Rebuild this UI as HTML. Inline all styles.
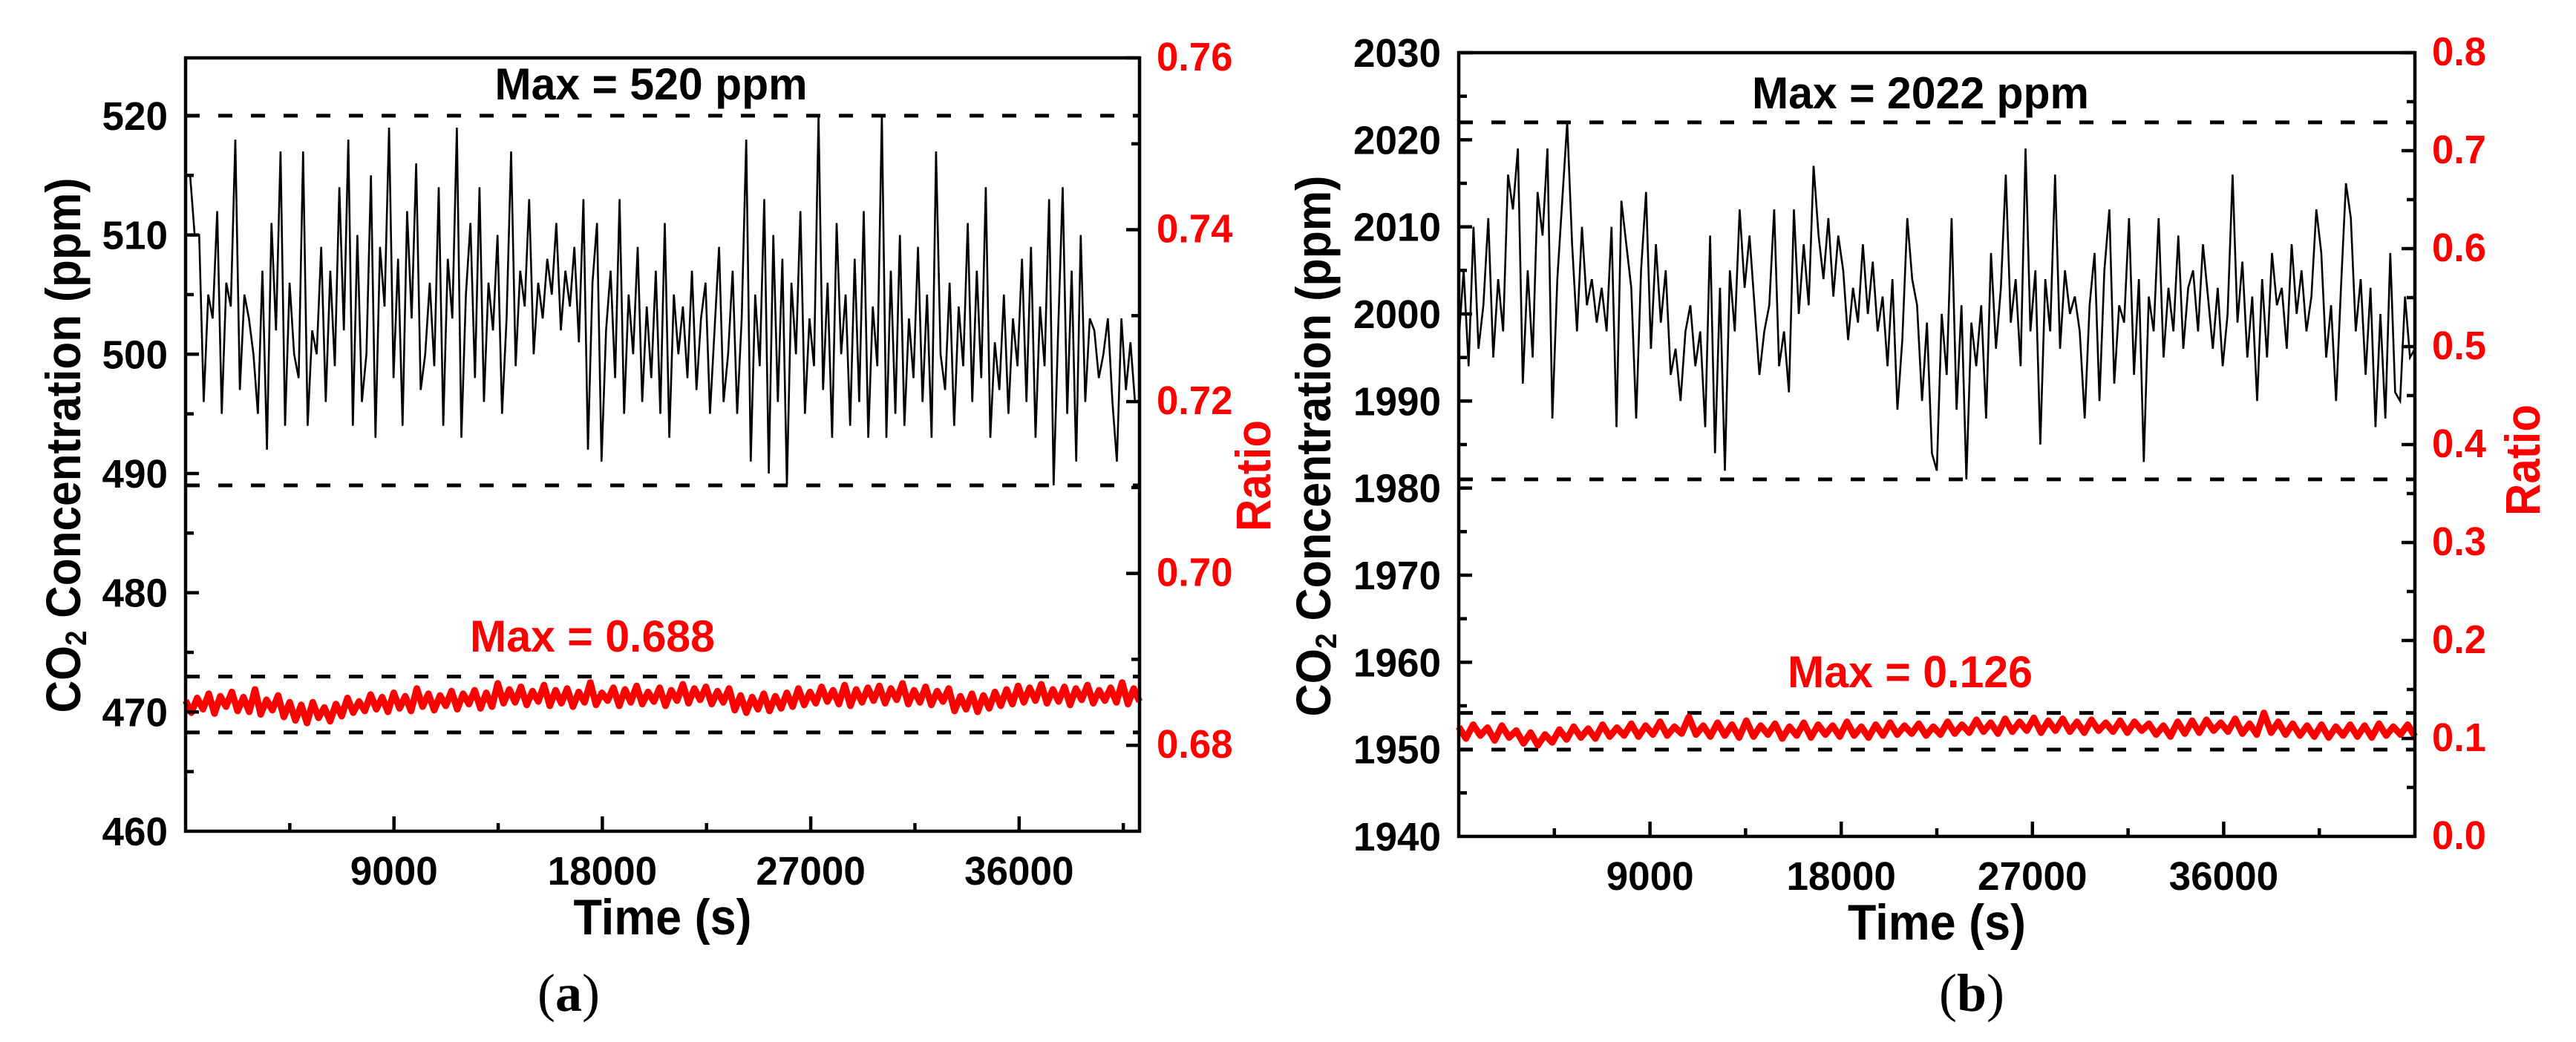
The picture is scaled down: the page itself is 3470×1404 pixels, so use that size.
<!DOCTYPE html>
<html><head><meta charset="utf-8"><title>CO2 concentration and ratio over time</title>
<style>
html,body{margin:0;padding:0;background:#fff;}
svg{display:block;}
text{font-family:"Liberation Sans",Arial,sans-serif;font-weight:bold;}
</style></head>
<body>
<svg id="fig" width="3470" height="1404" viewBox="0 0 3470 1404" xmlns="http://www.w3.org/2000/svg">
<rect width="3470" height="1404" fill="#fff"/>
<g id="panelA"></g>
<g id="panelB"></g>
</svg>
<script>
// ---------- Panel (a) data ----------
const xTicksA = [9000, 18000, 27000, 36000];
const leftTicksA = [460, 470, 480, 490, 500, 510, 520];
const rightTicksA = [0.68, 0.70, 0.72, 0.74, 0.76];
const co2A = [515,515,510,510,496,505,503,512,495,506,504,518,497,505,503,500,495,507,492,511,502,517,494,506,500,498,517,494,502,500,509,496,507,499,514,502,518,494,510,496,500,515,493,509,504,519,498,508,494,512,503,516,497,500,506,499,514,494,508,503,519,493,505,511,498,514,496,506,502,510,495,503,517,499,507,504,513,500,506,503,508,505,511,502,507,504,509,501,513,492,506,511,491,502,507,498,513,495,505,500,509,496,504,498,507,495,511,493,505,500,504,498,507,497,503,506,495,502,509,496,500,507,495,503,518,491,505,499,513,490,510,496,508,489,506,500,512,495,503,499,520,497,506,493,511,500,505,494,508,496,512,493,504,499,520,493,507,495,510,494,503,498,509,496,505,493,517,500,497,506,494,504,499,511,496,507,498,514,493,501,497,505,495,503,499,508,496,509,493,504,499,513,489,502,514,495,507,491,510,496,503,502,498,500,503,496,491,503,497,501,496,496];
const ratioA = [0.6852,0.6838,0.6855,0.6842,0.6860,0.6837,0.6857,0.6845,0.6862,0.6840,0.6856,0.6839,0.6865,0.6836,0.6853,0.6841,0.6858,0.6833,0.6850,0.6829,0.6847,0.6826,0.6850,0.6832,0.6844,0.6828,0.6848,0.6834,0.6855,0.6838,0.6851,0.6840,0.6859,0.6842,0.6856,0.6839,0.6861,0.6843,0.6857,0.6840,0.6866,0.6845,0.6860,0.6841,0.6858,0.6846,0.6863,0.6842,0.6860,0.6848,0.6864,0.6843,0.6861,0.6845,0.6872,0.6849,0.6865,0.6850,0.6868,0.6847,0.6863,0.6851,0.6870,0.6846,0.6864,0.6849,0.6866,0.6845,0.6862,0.6850,0.6873,0.6847,0.6861,0.6852,0.6867,0.6846,0.6865,0.6850,0.6869,0.6848,0.6862,0.6851,0.6867,0.6846,0.6864,0.6852,0.6871,0.6849,0.6866,0.6853,0.6868,0.6848,0.6863,0.6850,0.6866,0.6841,0.6858,0.6838,0.6856,0.6842,0.6860,0.6840,0.6857,0.6843,0.6861,0.6845,0.6866,0.6847,0.6862,0.6849,0.6868,0.6851,0.6864,0.6848,0.6870,0.6846,0.6865,0.6850,0.6867,0.6852,0.6869,0.6849,0.6866,0.6853,0.6872,0.6848,0.6864,0.6850,0.6868,0.6847,0.6863,0.6851,0.6866,0.6840,0.6857,0.6842,0.6860,0.6839,0.6858,0.6843,0.6862,0.6846,0.6865,0.6848,0.6869,0.6850,0.6867,0.6852,0.6871,0.6849,0.6865,0.6851,0.6868,0.6847,0.6866,0.6853,0.6870,0.6849,0.6864,0.6852,0.6867,0.6850,0.6873,0.6848,0.6866,0.6851];
const co2RefA = [520, 489];
const ratioRefA = [0.688, 0.6815];

// ---------- Panel (b) data ----------
const xTicksB = [9000, 18000, 27000, 36000];
const leftTicksB = [1940, 1950, 1960, 1970, 1980, 1990, 2000, 2010, 2020, 2030];
const rightTicksB = [0.0, 0.1, 0.2, 0.3, 0.4, 0.5, 0.6, 0.7, 0.8];
const co2B = [1997,2005,1994,2010,1996,2001,2011,1995,2004,1998,2016,2012,2019,1992,2005,1995,2014,2009,2019,1988,2004,2013,2022,2008,1998,2010,2001,2004,1999,2003,1998,2010,1987,2013,2008,2003,1988,2005,2014,1996,2008,1999,2005,1993,1996,1990,1998,2001,1994,1998,1987,2009,1984,2003,1982,2005,1998,2012,2003,2009,2001,1993,1998,2001,2012,1994,1998,1991,2012,2000,2008,2001,2017,2009,2004,2011,2002,2009,2005,1997,2003,1999,2008,2000,2006,1998,2002,1994,2004,1989,1997,2011,2004,2001,1990,1999,1984,1982,2000,1993,2011,1989,2001,1981,1999,1994,2001,1988,2007,1996,2003,2016,1999,2004,1994,2019,1998,2005,1985,2004,1998,2016,1996,2005,2000,2002,1998,1988,2001,2007,1990,2005,2012,1992,2001,1999,2011,1993,2004,1983,2002,1998,2011,1995,2003,1998,2009,1996,2003,2005,1998,2008,2002,1996,2003,1994,2000,2016,1999,2006,1995,2002,1990,2004,1995,2007,2001,2003,1996,2008,2000,2005,1998,2002,2012,2007,1995,2001,1990,2003,2015,2011,1998,2004,1993,2003,1987,2000,1988,2007,1991,1990,2002,1995,1996];
const ratioB = [0.112,0.100,0.114,0.103,0.111,0.098,0.113,0.101,0.108,0.095,0.106,0.093,0.104,0.096,0.109,0.099,0.112,0.101,0.110,0.100,0.114,0.102,0.111,0.103,0.115,0.102,0.113,0.104,0.117,0.103,0.112,0.105,0.122,0.104,0.113,0.102,0.116,0.103,0.114,0.101,0.118,0.102,0.113,0.104,0.115,0.100,0.112,0.103,0.116,0.101,0.114,0.104,0.113,0.102,0.117,0.103,0.112,0.101,0.114,0.103,0.116,0.104,0.113,0.105,0.115,0.103,0.112,0.104,0.117,0.105,0.114,0.106,0.119,0.107,0.116,0.105,0.120,0.107,0.117,0.108,0.121,0.106,0.118,0.108,0.120,0.107,0.117,0.106,0.119,0.108,0.116,0.107,0.118,0.106,0.117,0.108,0.115,0.104,0.113,0.102,0.117,0.105,0.118,0.106,0.119,0.108,0.116,0.107,0.120,0.105,0.115,0.104,0.126,0.106,0.117,0.104,0.115,0.103,0.113,0.102,0.114,0.101,0.112,0.103,0.114,0.102,0.113,0.101,0.115,0.103,0.112,0.104,0.114,0.102];
const co2RefB = [2022, 1981];
const ratioRefB = [0.126, 0.0886];

const NS = "http://www.w3.org/2000/svg";
function mk(parent, tag, attrs) {
  const e = document.createElementNS(NS, tag);
  for (const k in attrs) e.setAttribute(k, attrs[k]);
  parent.appendChild(e);
  return e;
}
function numW(s) { let w = 0; for (const c of s) w += (c === '.') ? 14 : 29.5; return w; }

function drawPanel(g, cfg) {
  const L = cfg.left, R = cfg.right, T = cfg.top, B = cfg.bottom;
  const sx = v => L + (v - cfg.xMin) / (cfg.xMax - cfg.xMin) * (R - L);
  const sy = v => B - (v - cfg.yMin) / (cfg.yMax - cfg.yMin) * (B - T);
  const sr = v => B - (v - cfg.rMin) / (cfg.rMax - cfg.rMin) * (B - T);

  cfg.co2Ref.forEach(v => {
    const l = mk(g, 'line', {x1: L, x2: R, y1: sy(v), y2: sy(v), stroke: '#000', 'stroke-width': 5, 'stroke-dasharray': '19 25'});
    
    
  });
  cfg.ratioRef.forEach(v => {
    const l = mk(g, 'line', {x1: L, x2: R, y1: sr(v), y2: sr(v), stroke: '#000', 'stroke-width': 5, 'stroke-dasharray': '19 25'});
    
    
  });

  const n1 = cfg.co2.length;
  let d1 = '';
  cfg.co2.forEach((v, i) => { const t = cfg.xMin + i / (n1 - 1) * (cfg.dataMax - cfg.xMin); d1 += (i ? 'L' : 'M') + sx(t).toFixed(1) + ' ' + sy(v).toFixed(1); });
  const p1 = mk(g, 'path', {d: d1, fill: 'none', stroke: '#000', 'stroke-width': 2.6});
  
  

  const n2 = cfg.ratio.length;
  let d2 = '';
  cfg.ratio.forEach((v, i) => { const t = cfg.xMin + i / (n2 - 1) * (cfg.dataMax - cfg.xMin); d2 += (i ? 'L' : 'M') + sx(t).toFixed(1) + ' ' + sr(v).toFixed(1); });
  const p2 = mk(g, 'path', {d: d2, fill: 'none', stroke: '#ff0000', 'stroke-width': 9, 'stroke-linejoin': 'round'});
  
  

  const fr = mk(g, 'rect', {x: L, y: T, width: R - L, height: B - T, fill: 'none', stroke: '#000', 'stroke-width': 4.5});
  
  

  for (let v = cfg.xMin + cfg.xMinor; v < cfg.xMax; v += cfg.xMinor) {
    const major = cfg.xTicks.includes(v);
    const tk = mk(g, 'line', {x1: sx(v), x2: sx(v), y1: B, y2: B - (major ? 20 : 11), stroke: '#000', 'stroke-width': 4.5});
    
    
  }
  cfg.xTicks.forEach(v => {
    const s = String(v);
    const t = mk(g, 'text', {x: sx(v), y: B + 72, 'text-anchor': 'middle', 'font-size': 54, textLength: numW(s), lengthAdjust: 'spacingAndGlyphs'});
    t.textContent = s;
    
    
  });
  for (let v = cfg.yMin; v <= cfg.yMax + 1e-9; v += cfg.yMinor) {
    const major = cfg.leftTicks.some(m => Math.abs(m - v) < 1e-6);
    if (v === cfg.yMin) continue;
    const tk = mk(g, 'line', {x1: L, x2: L + (major ? 18 : 11), y1: sy(v), y2: sy(v), stroke: '#000', 'stroke-width': 4.5});
    
    
  }
  cfg.leftTicks.forEach(v => {
    const s = String(v);
    const t = mk(g, 'text', {x: L - 24, y: sy(v) + 19, 'text-anchor': 'end', 'font-size': 54, textLength: numW(s), lengthAdjust: 'spacingAndGlyphs'});
    t.textContent = s;
    
    
  });
  for (let k = 1; ; k++) {
    const v = cfg.rMin + k * cfg.rMinor;
    if (v > cfg.rMax + 1e-9) break;
    const major = cfg.rightTicks.some(m => Math.abs(m - v) < 1e-6);
    const tk = mk(g, 'line', {x1: R, x2: R - (major ? 18 : 11), y1: sr(v), y2: sr(v), stroke: '#000', 'stroke-width': 4.5});
    
    
  }
  cfg.rightTicks.forEach(v => {
    const s = v.toFixed(cfg.rDec);
    const t = mk(g, 'text', {x: R + 23, y: sr(v) + 17, 'font-size': 54, fill: '#ff0000', textLength: numW(s), lengthAdjust: 'spacingAndGlyphs'});
    t.textContent = s;
    
    
  });

  const a1 = mk(g, 'text', {x: cfg.maxCo2X, y: cfg.maxCo2Y, 'text-anchor': 'middle', 'font-size': 60, textLength: cfg.maxCo2W, lengthAdjust: 'spacingAndGlyphs'});
  a1.textContent = cfg.maxCo2Text;
  
  
  const a2 = mk(g, 'text', {x: cfg.maxRX, y: cfg.maxRY, 'text-anchor': 'middle', 'font-size': 60, fill: '#ff0000', textLength: 330, lengthAdjust: 'spacingAndGlyphs'});
  a2.textContent = cfg.maxRText;
  
  

  const xt = mk(g, 'text', {x: (L + R) / 2, y: B + 139, 'text-anchor': 'middle', 'font-size': 68, textLength: 240, lengthAdjust: 'spacingAndGlyphs'});
  xt.textContent = 'Time (s)';
  
  

  const ly = mk(g, 'text', {transform: 'translate(' + cfg.ltX + ',' + cfg.ltY + ') rotate(-90)', 'text-anchor': 'middle', 'font-size': 66, textLength: cfg.ltW, lengthAdjust: 'spacingAndGlyphs'});
  ly.appendChild(document.createTextNode('CO'));
  const sub = mk(ly, 'tspan', {'font-size': 40, dy: 8});
  sub.textContent = '2';
  const rest = mk(ly, 'tspan', {dy: -8});
  rest.textContent = ' Concentration (ppm)';
  
  

  const ry = mk(g, 'text', {transform: 'translate(' + cfg.rtX + ',' + cfg.rtY + ') rotate(-90)', 'text-anchor': 'middle', 'font-size': 66, fill: '#ff0000', textLength: 150, lengthAdjust: 'spacingAndGlyphs'});
  ry.textContent = 'Ratio';
  
  

  const cap = mk(g, 'text', {x: cfg.capX, y: 1362, 'text-anchor': 'middle', 'font-size': 72, style: 'font-family:"Liberation Serif",serif;font-weight:normal'});
  cap.appendChild(document.createTextNode('('));
  const cb = mk(cap, 'tspan', {style: 'font-weight:bold'});
  cb.textContent = cfg.capLetter;
  cap.appendChild(document.createTextNode(')'));
  
  
}

drawPanel(document.getElementById('panelA'), {
  left: 250, right: 1535, top: 78, bottom: 1120,
  xMin: 0, xMax: 41200, dataMax: 41200, xMinor: 4500, xTicks: xTicksA,
  yMin: 460, yMax: 524.85, yMinor: 5, leftTicks: leftTicksA,
  rMin: 0.67, rMax: 0.76, rMinor: 0.01, rightTicks: rightTicksA, rDec: 2,
  co2: co2A, ratio: ratioA, co2Ref: co2RefA, ratioRef: ratioRefA,
  maxCo2Text: 'Max = 520 ppm', maxCo2X: 877, maxCo2Y: 134, maxCo2W: 421,
  maxRText: 'Max = 0.688', maxRX: 798, maxRY: 878,
  ltX: 108, ltY: 600, ltW: 721, rtX: 1711, rtY: 641,
  capX: 766, capLetter: 'a'
});
drawPanel(document.getElementById('panelB'), {
  left: 1965, right: 3253, top: 71, bottom: 1127,
  xMin: 0, xMax: 45000, dataMax: 45000, xMinor: 4500, xTicks: xTicksB,
  yMin: 1940, yMax: 2030, yMinor: 5, leftTicks: leftTicksB,
  rMin: 0, rMax: 0.8, rMinor: 0.05, rightTicks: rightTicksB, rDec: 1,
  co2: co2B, ratio: ratioB, co2Ref: co2RefB, ratioRef: ratioRefB,
  maxCo2Text: 'Max = 2022 ppm', maxCo2X: 2587, maxCo2Y: 146, maxCo2W: 454,
  maxRText: 'Max = 0.126', maxRX: 2573, maxRY: 926,
  ltX: 1792, ltY: 601, ltW: 729, rtX: 3421, rtY: 620,
  capX: 2656, capLetter: 'b'
});
</script>
</body></html>
